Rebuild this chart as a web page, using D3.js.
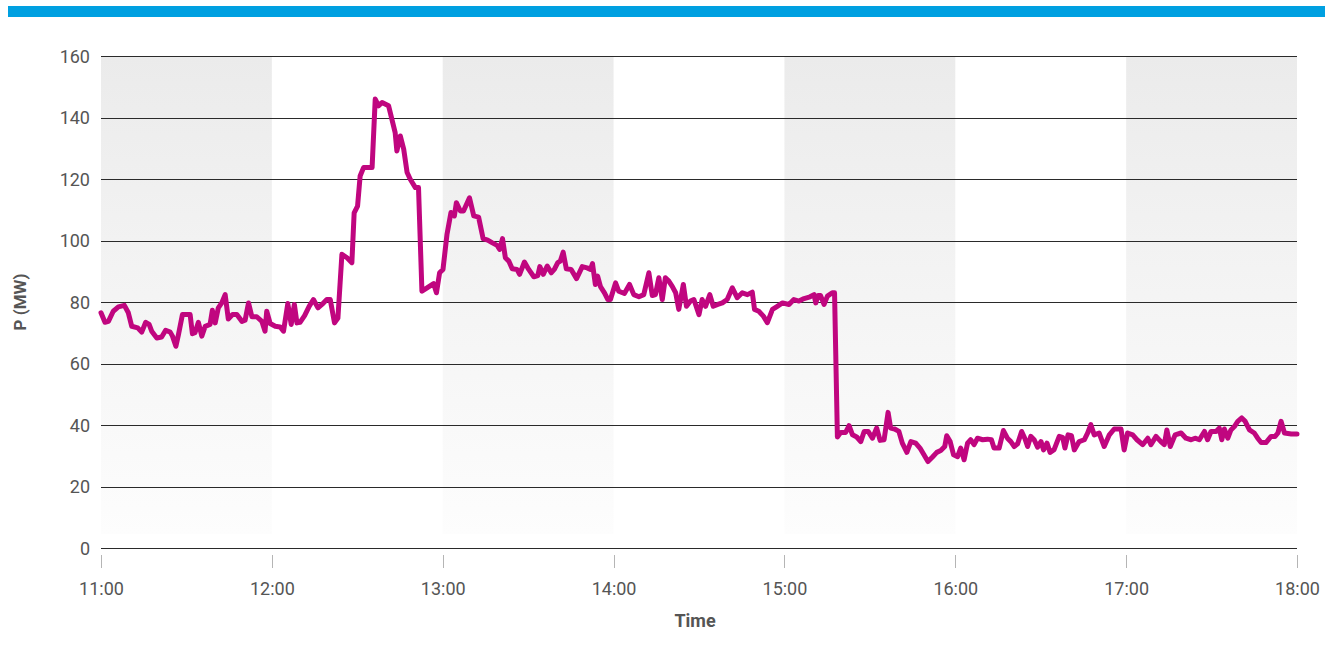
<!DOCTYPE html>
<html><head><meta charset="utf-8">
<script src="https://cdn.jsdelivr.net/npm/d3@7"></script>
<style>
html,body{margin:0;padding:0;background:#fff;}
svg{display:block;}
</style></head>
<body>
<svg id="chart" width="1333" height="648"></svg>
<script>
// minutes after 11:00
const minutes = [0,1.4,2.6,4.3,6.1,8.2,9.6,10.8,12.9,14.3,15.7,16.9,17.8,19.6,21.3,22.7,24.3,25.1,26.3,27.2,28.6,30.1,31.3,32.1,33.0,34.2,35.4,36.6,38.3,39.1,40.1,41.2,42.4,43.6,44.7,46.2,47.7,49.5,50.6,51.8,53.0,54.7,56.5,57.6,58.2,59.4,61.2,62.9,64.1,65.6,66.8,67.9,68.8,69.9,71.5,73.1,74.6,76.2,77.6,79.3,80.5,82.0,83.2,84.6,86.4,88.1,88.9,90.1,91.0,92.2,95.2,96.3,97.5,98.7,101.0,103.3,103.9,105.1,106.3,107.5,108.6,110.4,111.5,112.7,114.5,116.8,117.8,118.9,120.1,121.5,122.9,124.1,124.8,126.2,127.3,129.4,130.9,132.6,134.2,135.8,137.3,139.1,140.0,141.0,142.0,143.2,144.4,146.1,147.0,148.7,150.2,152.0,153.4,154.1,155.3,156.7,158.1,159.2,160.4,161.3,162.3,163.4,165.1,167.0,169.0,170.7,171.9,172.6,173.6,174.4,175.4,176.8,178.0,178.9,180.7,181.8,183.8,185.6,187.1,188.9,190.6,192.4,193.6,194.7,195.9,197.1,198.2,199.4,200.6,201.8,202.9,204.5,205.6,207.0,208.2,210.0,211.1,212.3,213.8,215.0,216.6,218.2,219.9,221.7,223.4,225.2,227.0,228.7,229.5,231.0,232.6,234.0,235.8,237.5,239.3,241.6,243.3,245.1,246.9,249.0,250.4,251.0,251.8,252.7,253.9,255.1,256.8,257.6,258.6,259.8,261.5,262.7,263.9,265.4,266.8,268.0,269.4,270.9,272.4,273.6,275.0,276.4,277.3,278.7,280.2,281.4,283.0,284.4,286.1,287.6,289.0,290.4,292.0,293.5,294.9,296.3,297.0,298.2,299.4,300.8,301.9,303.1,304.3,305.4,306.6,307.8,309.6,311.3,312.7,313.6,315.4,316.9,318.3,319.5,320.7,321.9,323.3,324.4,325.4,326.5,327.7,328.9,330.1,331.0,332.2,333.3,334.7,336.5,337.7,338.5,339.6,340.8,341.8,343.5,345.3,346.5,347.6,348.8,350.5,352.3,354.1,355.8,358.2,359.3,360.5,362.3,363.8,365.8,367.6,368.7,370.5,372.2,373.4,374.3,375.5,377.2,379.3,381.0,382.8,384.2,385.7,387.5,388.6,389.8,391.6,392.7,393.6,394.5,395.7,396.8,398.0,399.2,400.6,401.8,403.3,405.0,406.2,407.4,409.1,410.9,412.3,413.3,414.4,415.6,418.0,420.0];
// active power in MW
const power = [76.5,73.4,73.7,77,78.4,78.9,76.5,72.1,71.6,70.2,73.4,72.7,70.5,68.3,68.6,70.8,70.2,68.9,65.6,69.4,75.9,75.9,75.9,69.7,70,73.4,68.9,72.1,72.7,77.3,73.2,78.1,79.7,82.4,74.5,75.9,75.9,73.7,74.1,79.7,75.2,75.2,73.7,70.5,77,73,72.1,71.9,70.5,79.5,72.7,79.2,73.2,73.4,75.6,78.6,80.8,78.1,79.2,80.8,80.8,73.2,74.8,95.5,94.4,92.8,109,111.2,121,123.7,123.7,146,143.8,144.9,143.8,135.1,129.1,134,129.7,122.1,119.9,117.2,117.2,83.5,84.6,86,83,89.5,90.6,102,109.1,108,112.3,109.6,109.6,113.9,108,107.6,100.6,100.1,99.3,98.4,97.1,100.6,94.4,93.3,90.8,90.6,89,93,90.6,88.2,88.6,91.5,89,91.7,89.5,90.6,92.8,93.3,96.2,90.8,90.6,87.6,91.5,91.1,90.6,92.5,85.7,88.4,85,83,80.8,80.8,86.2,83.5,82.8,85.7,82.4,81.7,82.4,89.5,82.1,82.4,87.9,80.8,87.9,86.8,85.1,83,77.6,85.7,78.6,80.3,80.8,75.9,80.8,78.6,82.4,78.6,79.2,79.7,80.8,84.6,81.4,83,82.4,83.2,77.6,77,75.4,73.3,77.6,78.6,79.7,79.2,80.8,80.3,81.1,81.7,82.4,79.7,82.1,82.1,79.2,81.9,83,83,36.1,37.6,37.6,39.8,36.8,36.1,34.6,37.9,37.9,35.7,39,35,35.2,44.1,39,38.7,37.9,34.1,31.1,34.6,34.1,32.5,30.3,28.1,29.6,31.1,31.7,33,36.5,34.6,30.3,29.7,32.5,28.7,34.1,35.2,33.6,35.7,35.2,35.4,35.2,32.5,32.5,38.2,35.7,34.6,33,33.9,37.9,35.7,33,36.3,35.2,32.8,34.6,31.9,34.1,31.1,32,36.3,36,32.5,36.8,36.5,31.9,34.6,35.2,37.4,40.1,36.8,37.4,33,36.8,38.7,38.7,31.9,37.4,36.8,35.2,33.6,35.7,33.6,36.3,34.6,33.6,38.4,33,36.8,37.4,35.7,35.2,35.7,35.2,37.9,35.2,37.9,37.9,39,35.2,38.7,35.7,38.4,39.5,41.2,42.3,41.2,38.4,37.4,35.7,34.3,34.3,36.3,36.3,37.4,41.2,37.4,37.1,37.1];
const hourLabels = ["11:00","12:00","13:00","14:00","15:00","16:00","17:00","18:00"];
const yTickValues = [0,20,40,60,80,100,120,140,160];
const shadedHours = [0,2,4,6]; // hour index where a shaded band starts

const svg = d3.select("#chart");
const mLeft = 101, mRight = 1297, mTop = 56, mBottom = 548;
const FONT = "Roboto, 'Noto Sans', sans-serif";

const x = d3.scaleLinear().domain([0, 420]).range([mLeft, mRight]);
const y = d3.scaleLinear().domain([0, 160]).range([mBottom, mTop]);

// top blue bar
svg.append("rect").attr("x", 8).attr("y", 6).attr("width", 1317).attr("height", 11).attr("fill", "#00a0e1");

// gradient for shaded bands
const defs = svg.append("defs");
const grad = defs.append("linearGradient").attr("id", "band").attr("x1", 0).attr("y1", 0).attr("x2", 0).attr("y2", 1);
grad.append("stop").attr("offset", "0%").attr("stop-color", "#ebebeb");
grad.append("stop").attr("offset", "100%").attr("stop-color", "#fdfdfd");

svg.append("g").selectAll("rect").data(shadedHours).join("rect")
  .attr("x", d => x(d * 60))
  .attr("y", mTop)
  .attr("width", d => x((d + 1) * 60) - x(d * 60))
  .attr("height", y(4.5) - mTop)
  .attr("fill", "url(#band)");

// horizontal gridlines + y axis labels
const yAxis = d3.axisLeft(y).tickValues(yTickValues).tickSize(-(mRight - mLeft)).tickPadding(11).tickFormat(d3.format("d"));
const gy = svg.append("g").attr("transform", `translate(${mLeft},0)`).call(yAxis);
gy.select(".domain").remove();
gy.selectAll(".tick line").attr("stroke", "#2a2a2a").attr("stroke-width", 1).attr("shape-rendering", "crispEdges");
gy.selectAll(".tick text").attr("fill", "#555").attr("font-family", FONT).attr("font-size", 18).attr("dy", "0.35em");

// x axis
const xAxis = d3.axisBottom(x).tickValues(d3.range(0, 421, 60)).tickSize(0).tickFormat((d, i) => hourLabels[i]);
const gx = svg.append("g").attr("transform", `translate(0,${mBottom})`).call(xAxis);
gx.select(".domain").remove();
gx.selectAll(".tick text").attr("fill", "#555").attr("font-family", FONT).attr("font-size", 18).attr("y", 47).attr("dy", 0);
gx.selectAll(".tick").append("line").attr("x1", 0).attr("x2", 0).attr("y1", 7).attr("y2", 20)
  .attr("stroke", "#b5b5b5").attr("stroke-width", 1).attr("shape-rendering", "crispEdges");

// line
const line = d3.line().x((d, i) => x(minutes[i])).y(d => y(d)).curve(d3.curveLinear);
svg.append("path").datum(power).attr("d", line)
  .attr("fill", "none").attr("stroke", "#c0067f").attr("stroke-width", 5)
  .attr("stroke-linejoin", "round").attr("stroke-linecap", "round");

// axis titles
svg.append("text").attr("x", (mLeft + mRight) / 2 - 4).attr("y", 627).attr("text-anchor", "middle")
  .attr("font-family", FONT).attr("font-weight", "bold").attr("font-size", 18).attr("fill", "#555").text("Time");
svg.append("text").attr("transform", `translate(26,${(mTop + mBottom) / 2}) rotate(-90)`).attr("text-anchor", "middle")
  .attr("font-family", FONT).attr("font-weight", "bold").attr("font-size", 17).attr("fill", "#555").text("P (MW)");
</script>
</body></html>
